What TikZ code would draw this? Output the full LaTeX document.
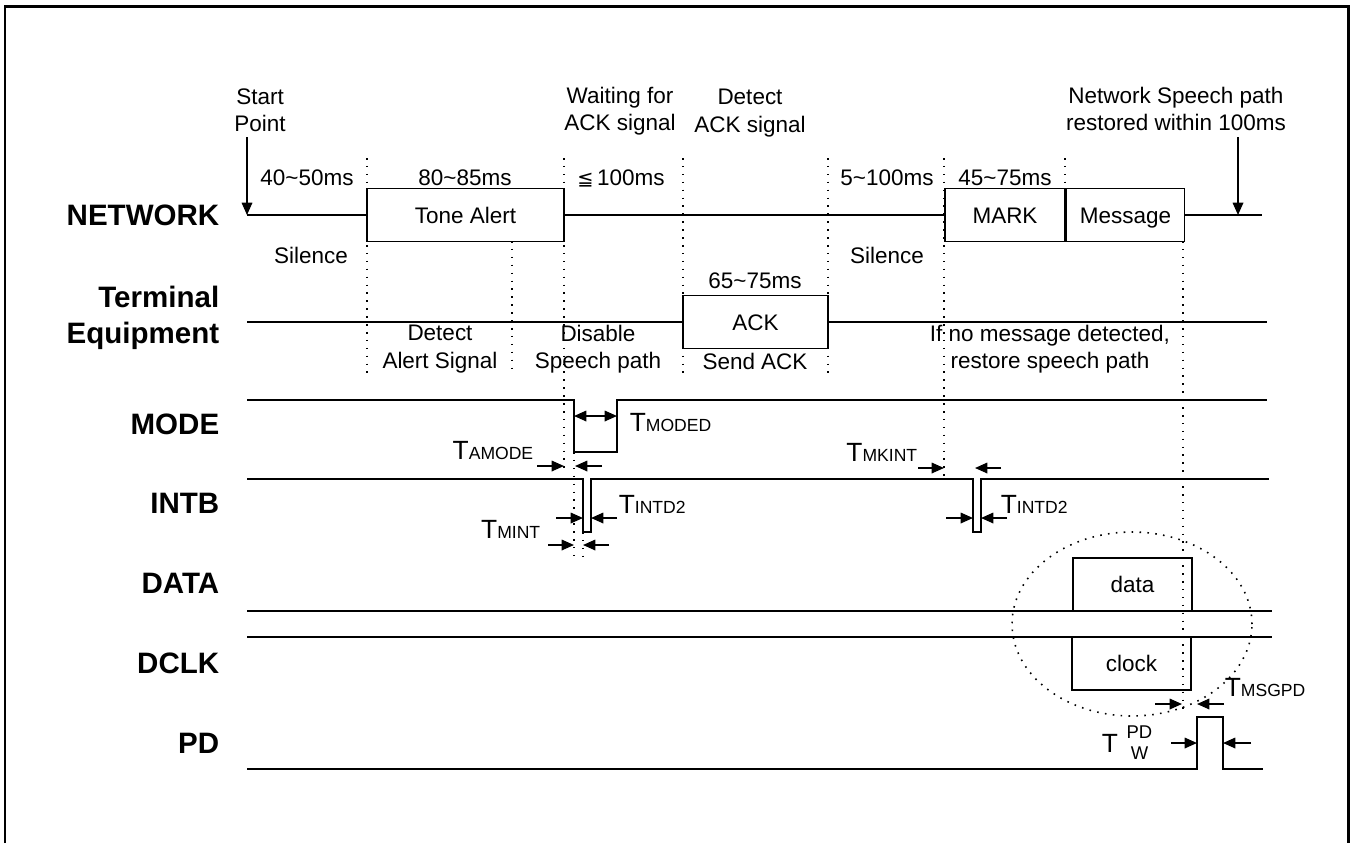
\documentclass[tikz,border=0pt]{standalone}
\usepackage{fontspec}
\setmainfont{Liberation Sans}
\newfontfamily\symfont{DejaVu Sans}
\usetikzlibrary{arrows.meta,positioning,shapes.geometric}
\newcommand{\tld}{\textasciitilde}
\newcommand{\tmark}[1]{T{\fontsize{10}{12}\selectfont #1}}
\begin{document}
\begin{tikzpicture}[x=0.02cm,y=-0.02cm,line width=0.9pt]
  \tikzstyle{sig}=[font=\fontsize{16.8}{20.4}\selectfont\bfseries,anchor=east,align=right,inner sep=0pt]
  \tikzstyle{txt}=[font=\fontsize{12.8}{15.6}\selectfont,align=center,inner sep=0pt]
  \tikzstyle{pulse}=[rectangle,draw,minimum height=1.06cm,inner sep=0pt,text height=9.2pt,text depth=0pt,font=\fontsize{12.8}{15}\selectfont]
  \tikzstyle{guide}=[line width=0.9pt,dash pattern=on 0.9pt off 3.6pt]
  \tikzstyle{tip}=[-{Triangle[length=7pt,width=6pt]}]
  \tikzstyle{tm}=[font=\fontsize{15}{17}\selectfont,inner sep=0pt]
  \useasboundingbox (0,0) rectangle (1353,843);
  \draw[line width=1.7pt] (5,843) -- (5,6) -- (1348,6) -- (1348,843);

  \node[sig] (lnet) at (220,215) {NETWORK};
  \node[sig] (lterm) at (220,318) {Terminal\\Equipment};
  \node[sig] (lmode) at (220,424) {MODE};
  \node[sig] (lintb) at (220,503) {INTB};
  \node[sig] (ldata) at (220,583) {DATA};
  \node[sig] (ldclk) at (220,663) {DCLK};
  \node[sig] (lpd) at (220,743) {PD};

  \node[pulse,minimum width=3.94cm] (tone) at (465.5,215) {Tone Alert};
  \node[pulse,minimum width=2.4cm] (mark) at (1005,215) {MARK};
  \node[pulse,minimum width=2.36cm,right=0pt of mark] (msg) {Message};
  \node[pulse,minimum width=2.9cm] (ack) at (755.5,322) {ACK};
  \node[pulse,minimum width=2.38cm] (data) at (1132.5,584.5) {data};
  \node[pulse,minimum width=2.38cm] (clock) at (1131.5,663.5) {clock};
  \node[ellipse,guide,draw,minimum width=4.8cm,minimum height=3.68cm] (zoomarea) at (1132,624) {};

  \coordinate (n0) at (247,215);
  \coordinate (n1) at (1262,215);
  \coordinate (st) at (247,137);
  \coordinate (rs) at (1238,137);
  \coordinate (rt) at (1238,215);
  \draw (n0) -- (tone.west) (tone.east) -- (mark.west) (msg.east) -- (n1);
  \draw[tip] (st) -- (n0);
  \draw[tip] (rs) -- (rt);
  \draw (247,322) -- (ack.west) (ack.east) -- (1267,322);
  \draw (247,400) -- (574,400) -- (574,452) -- (617,452) -- (617,400) -- (1267,400);
  \draw (247,479) -- (583,479) -- (583,532) -- (591,532) -- (591,479) -- (973,479)
    -- (973,532) -- (981,532) -- (981,479) -- (1269,479);
  \draw (247,611) -- (1272,611);
  \draw (247,637) -- (1272,637);
  \draw (247,769) -- (1197,769) -- (1197,717) -- (1223,717) -- (1223,769) -- (1263,769);

  \draw[guide] (367,158) -- (367,373);
  \draw[guide] (512,241) -- (512,373);
  \draw[guide] (564,158) -- (564,468);
  \draw[guide] (683,158) -- (683,373);
  \draw[guide] (828,158) -- (828,373);
  \draw[guide] (944,158) -- (944,479);
  \draw[guide] (1065,158) -- (1065,188);
  \draw[guide] (1183,241) -- (1183,713);
  \draw[guide] (574,452) -- (574,558);
  \draw[guide] (583,532) -- (583,558);

  \node[txt] (start) at (260,110) {Start\\Point};
  \node[txt] (wait) at (620,111) {Waiting for\\ACK signal};
  \node[txt] (detack) at (750,113) {Detect\\ACK signal};
  \node[txt] (restore) at (1176,109) {Network Speech path\\restored within 100ms};
  \node[txt] (d1) at (307,178) {40\tld50ms};
  \node[txt] (d2) at (465,178) {80\tld85ms};
  \node[txt] (d3) at (621,178) {{\symfont\fontsize{11}{13}\selectfont ≦}\,100ms};
  \node[txt] (d4) at (887,178) {5\tld100ms};
  \node[txt] (d5) at (1005,178) {45\tld75ms};
  \node[txt] (sil1) at (311,255) {Silence};
  \node[txt] (sil2) at (887,255) {Silence};
  \node[txt] (d6) at (755,281) {65\tld75ms};
  \node[txt] (sendack) at (755,361) {Send ACK};
  \node[txt] (detal) at (440,349) {Detect\\Alert Signal};
  \node[txt] (disab) at (598,349) {Disable\\Speech path};
  \node[txt] (nomsg) at (1050,349) {If no message detected,\\restore speech path};

  \draw[{Triangle[length=7pt,width=6pt]}-{Triangle[length=7pt,width=6pt]}] (574,416) -- (617,416);
  \node[tm,anchor=west] (tmoded) at (629,423) {\tmark{MODED}};
  \draw[tip] (537,466) -- (564,466);
  \draw[tip] (602,466) -- (575,466);
  \node[tm,anchor=east] (tamode) at (534,451) {\tmark{AMODE}};
  \draw[tip] (556,518) -- (583,518);
  \draw[tip] (617,518) -- (591,518);
  \node[tm,anchor=west] (tintda) at (618,504) {\tmark{INTD2}};
  \draw[tip] (548,545) -- (574,545);
  \draw[tip] (609,545) -- (583,545);
  \node[tm,anchor=east] (tmint) at (541,529) {\tmark{MINT}};
  \draw[tip] (918,468) -- (944,468);
  \draw[tip] (1001,468) -- (975,468);
  \node[tm,anchor=east] (tmkint) at (918,452) {\tmark{MKINT}};
  \draw[tip] (946,518) -- (973,518);
  \draw[tip] (1007,518) -- (981,518);
  \node[tm,anchor=west] (tintdb) at (1000,504) {\tmark{INTD2}};
  \draw[tip] (1155,704) -- (1182,704);
  \draw[tip] (1224,704) -- (1197,704);
  \node[tm,anchor=west] (tmsgpd) at (1224,688) {\tmark{MSGPD}};
  \draw[tip] (1171,743) -- (1197,743);
  \draw[tip] (1251,743) -- (1223,743);
  \node[tm] (tpd) at (1110,743) {T};
  \node[align=center,inner sep=0pt,font=\fontsize{10.5}{12}\selectfont,right=4pt of tpd] (tpdsub) {PD\\W};
\end{tikzpicture}
\end{document}
